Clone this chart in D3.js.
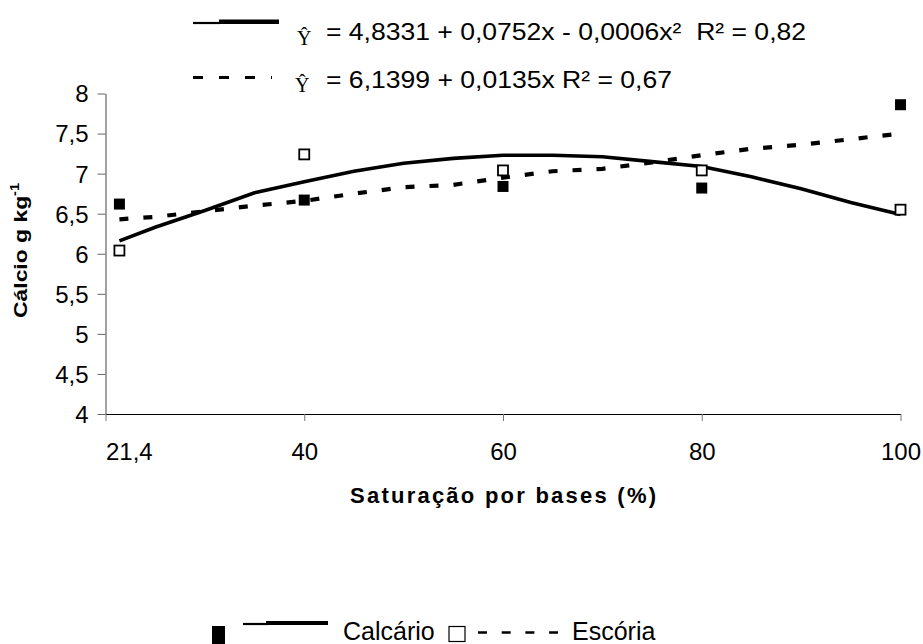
<!DOCTYPE html>
<html>
<head>
<meta charset="utf-8">
<script src="https://cdn.jsdelivr.net/npm/d3@7"></script>
<style>
  body { margin: 0; background: #fff; }
  svg { display: block; }
  text { font-family: 'Liberation Sans', Arial, sans-serif; fill: #000; }
</style>
</head>
<body>
<div id="chart"></div>
<script>
// values
const xValues = [21.4, 40, 60, 80, 100];
const calcario = [6.62, 6.67, 6.84, 6.82, 7.86];
const escoria = [6.04, 7.24, 7.04, 7.04, 6.55];

// fitted curves as drawn in the figure
const trendX = [21.4, 25, 30, 35, 40, 45, 50, 55, 60, 65, 70, 75, 80, 85, 90, 95, 100];
const trendSolid = [6.16, 6.33, 6.54, 6.76, 6.90, 7.03, 7.13, 7.19, 7.23, 7.23, 7.21, 7.15, 7.09, 6.96, 6.81, 6.64, 6.49];
const trendDashed = [6.43, 6.46, 6.53, 6.60, 6.66, 6.75, 6.83, 6.86, 6.95, 7.03, 7.06, 7.14, 7.23, 7.31, 7.36, 7.43, 7.50];

const xTicks = [20, 40, 60, 80, 100];
const xTickLabels = ["21,4", "40", "60", "80", "100"];
const yTicks = [4, 4.5, 5, 5.5, 6, 6.5, 7, 7.5, 8];
const yTickLabels = ["4", "4,5", "5", "5,5", "6", "6,5", "7", "7,5", "8"];

const equations = ["= 4,8331 + 0,0752x - 0,0006x\u00b2  R\u00b2 = 0,82", "= 6,1399 + 0,0135x R\u00b2 = 0,67"];
const seriesNames = ["Calcário", "Escória"];

const W = 923, H = 644;
const svg = d3.select("#chart").append("svg")
  .attr("width", W).attr("height", H);
svg.append("rect").attr("width", W).attr("height", H).attr("fill", "#fff");

const x = d3.scaleLinear().domain([20, 100]).range([105.5, 900.5]);
const y = d3.scaleLinear().domain([4, 8]).range([414, 93.5]);

// axes
const gx = svg.append("g").attr("transform", "translate(0,414)")
  .call(d3.axisBottom(x).tickValues(xTicks).tickSize(7).tickSizeOuter(0)
    .tickFormat((d, i) => xTickLabels[i]));
gx.select(".domain").attr("stroke", "#000").attr("stroke-width", 1.2);
gx.selectAll(".tick line").attr("stroke", "#777");
gx.selectAll(".tick text")
  .attr("y", 46).attr("dy", 0)
  .style("font-size", "24px").style("font-family", "'Liberation Sans', Arial, sans-serif")
  .attr("text-anchor", (d, i) => i === 0 ? "start" : "middle");

const gy = svg.append("g").attr("transform", "translate(105.5,0)")
  .call(d3.axisLeft(y).tickValues(yTicks).tickSize(8).tickSizeOuter(0)
    .tickFormat((d, i) => yTickLabels[i]));
gy.select(".domain").attr("stroke", "#444").attr("stroke-width", 1);
gy.selectAll(".tick line").attr("stroke", "#666");
gy.selectAll(".tick text")
  .attr("x", -17).attr("dy", "0.35em")
  .style("font-size", "24px").style("font-family", "'Liberation Sans', Arial, sans-serif");

// axis titles
svg.append("text")
  .attr("x", 350).attr("y", 503)
  .attr("textLength", 306)
  .style("font-size", "22px").style("font-weight", "bold")
  .text("Saturação por bases (%)");

const yt = svg.append("text")
  .attr("transform", "translate(27,318) rotate(-90)")
  .attr("textLength", 135).attr("lengthAdjust", "spacingAndGlyphs")
  .style("font-size", "19px").style("font-weight", "bold");
yt.append("tspan").text("Cálcio g kg");
yt.append("tspan").attr("dy", -8).style("font-size", "12px").text("-1");

// trend lines
const line = d3.line().x(d => x(d[0])).y(d => y(d[1]));
svg.append("path")
  .datum(trendX.map((v, i) => [v, trendSolid[i]]))
  .attr("d", line).attr("fill", "none")
  .attr("stroke", "#000").attr("stroke-width", 3.6);
svg.append("path")
  .datum(trendX.map((v, i) => [v, trendDashed[i]]))
  .attr("d", line).attr("fill", "none")
  .attr("stroke", "#000").attr("stroke-width", 4.2)
  .attr("stroke-dasharray", "9,15");

// points
svg.selectAll(".p-calc").data(xValues.map((v, i) => [v, calcario[i]]))
  .enter().append("rect").attr("class", "p-calc")
  .attr("x", d => x(d[0]) - 5.5).attr("y", d => y(d[1]) - 5.5)
  .attr("width", 11).attr("height", 11).attr("fill", "#000");
svg.selectAll(".p-esc").data(xValues.map((v, i) => [v, escoria[i]]))
  .enter().append("rect").attr("class", "p-esc")
  .attr("x", d => x(d[0]) - 5).attr("y", d => y(d[1]) - 5)
  .attr("width", 10).attr("height", 10)
  .attr("fill", "#fff").attr("stroke", "#000").attr("stroke-width", 1.8);

// equations at top
svg.append("line").attr("x1", 193).attr("x2", 220).attr("y1", 23).attr("y2", 23)
  .attr("stroke", "#000").attr("stroke-width", 2.2);
svg.append("line").attr("x1", 219).attr("x2", 279).attr("y1", 21.7).attr("y2", 21.7)
  .attr("stroke", "#000").attr("stroke-width", 4.5);
svg.append("line").attr("x1", 193).attr("x2", 272).attr("y1", 77.5).attr("y2", 77.5)
  .attr("stroke", "#000").attr("stroke-width", 3.2).attr("stroke-dasharray", "10,16");

[45, 92].forEach((by, i) => {
  svg.append("text").attr("x", i === 0 ? 297 : 295).attr("y", by)
    .style("font-family", "'Liberation Serif', 'DejaVu Serif', serif")
    .style("font-size", "20px").text("\u0176");
});
svg.append("text").attr("x", 326).attr("y", 39.5)
  .attr("textLength", 480).attr("lengthAdjust", "spacingAndGlyphs")
  .style("font-size", "24px").style("white-space", "pre").text(equations[0]);
svg.append("text").attr("x", 326).attr("y", 88)
  .attr("textLength", 346).attr("lengthAdjust", "spacingAndGlyphs")
  .style("font-size", "24px").style("white-space", "pre").text(equations[1]);

// bottom legend
svg.append("rect").attr("x", 212).attr("y", 626).attr("width", 13).attr("height", 18).attr("fill", "#000");
svg.append("line").attr("x1", 243).attr("x2", 268).attr("y1", 624).attr("y2", 624)
  .attr("stroke", "#000").attr("stroke-width", 2.2);
svg.append("line").attr("x1", 266).attr("x2", 328).attr("y1", 623).attr("y2", 623)
  .attr("stroke", "#000").attr("stroke-width", 4.2);
svg.append("text").attr("x", 343).attr("y", 639.5)
  .style("font-size", "25px").text(seriesNames[0]);
svg.append("rect").attr("x", 449).attr("y", 626.5).attr("width", 16).attr("height", 15)
  .attr("fill", "#fff").attr("stroke", "#000").attr("stroke-width", 1.2);
svg.append("line").attr("x1", 478).attr("x2", 558).attr("y1", 632.5).attr("y2", 632.5)
  .attr("stroke", "#000").attr("stroke-width", 2.6).attr("stroke-dasharray", "9,14.7");
svg.append("text").attr("x", 572).attr("y", 639.5)
  .style("font-size", "25px").text(seriesNames[1]);
</script>
</body>
</html>
